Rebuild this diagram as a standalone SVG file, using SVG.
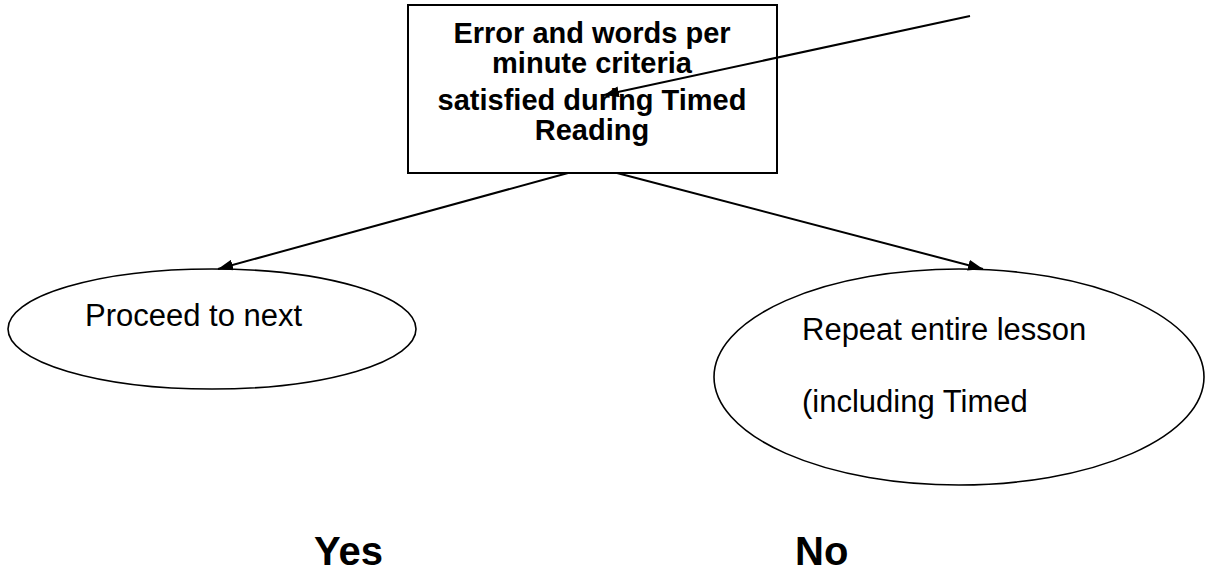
<svg xmlns="http://www.w3.org/2000/svg" width="1207" height="578" viewBox="0 0 1207 578">
<style>
.shape{fill:#fff;stroke:#000}
.box{stroke-width:2}
.ell{stroke-width:1.6}
.conn{stroke:#000;stroke-width:2;fill:none}
.t{font-family:"Liberation Sans",Arial,sans-serif;fill:#000}
.b{font-weight:bold;font-size:29px;text-anchor:middle}
.r{font-size:31px}
.big{font-weight:bold;font-size:40px}
</style>
<defs>
<marker id="ah" viewBox="0 0 15 11" refX="15" refY="5.5" markerWidth="15" markerHeight="11" markerUnits="userSpaceOnUse" orient="auto">
<path d="M0,0 L15,5.5 L0,11 Z" fill="#000"/>
</marker>
</defs>
<g id="decision">
<rect class="shape box" x="408" y="5" width="369" height="168"/>
<text class="t b" x="592" y="43">Error and words per</text>
<text class="t b" x="592" y="73">minute criteria</text>
<text class="t b" x="592" y="110">satisfied during Timed</text>
<text class="t b" x="592" y="140">Reading</text>
</g>
<g id="proceed">
<ellipse class="shape ell" cx="212" cy="329" rx="204" ry="60"/>
<text class="t r" x="85" y="326">Proceed to next</text>
</g>
<g id="repeat">
<ellipse class="shape ell" cx="959" cy="377" rx="245" ry="108"/>
<text class="t r" x="802" y="340">Repeat entire lesson</text>
<text class="t r" x="802" y="412">(including Timed</text>
</g>
<g id="yes"><text class="t big" x="314" y="565">Yes</text></g>
<g id="no"><text class="t big" x="795" y="565">No</text></g>
<g id="connectors">
<line class="conn" x1="568" y1="173" x2="218" y2="269" marker-end="url(#ah)"/>
<line class="conn" x1="617" y1="173" x2="983" y2="269" marker-end="url(#ah)"/>
<line class="conn" x1="970" y1="16" x2="604" y2="95" marker-end="url(#ah)"/>
</g>
</svg>
